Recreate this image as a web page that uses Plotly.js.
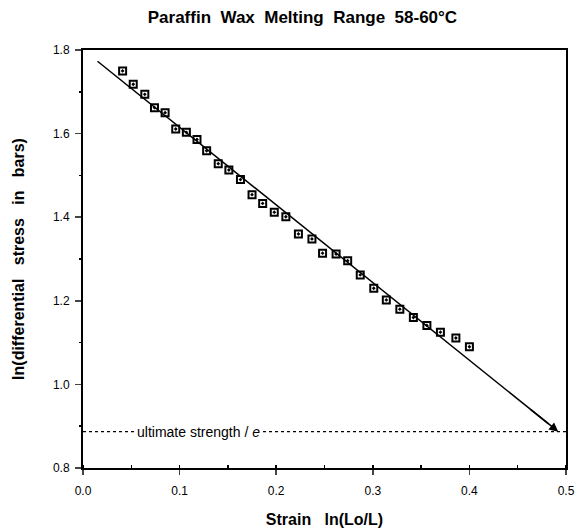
<!DOCTYPE html>
<html><head><meta charset="utf-8">
<script src="https://cdn.plot.ly/plotly-3.0.1.min.js"></script>
<style>body{margin:0;background:#fff}#chart{width:575px;height:531px}</style>
</head><body><div id="chart"></div>
<script>
const strain = [0.041,0.052,0.064,0.074,0.085,0.096,0.107,0.118,0.128,0.140,0.151,0.163,0.175,0.186,0.198,0.210,0.223,0.237,0.248,0.262,0.274,0.287,0.301,0.314,0.328,0.342,0.356,0.370,0.386,0.400];
const lnStress = [1.750,1.718,1.694,1.662,1.650,1.611,1.603,1.586,1.559,1.528,1.513,1.490,1.454,1.433,1.412,1.401,1.360,1.348,1.314,1.312,1.296,1.262,1.230,1.202,1.180,1.160,1.141,1.125,1.111,1.090];
const fitX = [0.015, 0.492];
const fitY = [1.773, 0.887];
const limitX = [0, 0.5];
const limitY = [0.887, 0.887];
const limitLabel = "ultimate strength / <i>e</i>";
const titleText = "Paraffin&nbsp; Wax&nbsp; Melting&nbsp; Range&nbsp; 58-60°C";
const xTitle = "Strain&nbsp;&nbsp; ln(Lo/L)";
const yTitle = "ln(differential&nbsp;&nbsp; stress&nbsp;&nbsp; in&nbsp;&nbsp; bars)";

const font = "Liberation Sans, Arial, sans-serif";
const traces = [
  {x: limitX, y: limitY, mode: 'lines', line: {color: '#000', width: 1.2, dash: 'dot'}, hoverinfo: 'skip'},
  {x: [fitX[0], fitX[1] - 0.01], y: [fitY[0], fitY[0] + (fitY[1]-fitY[0])*(fitX[1]-0.01-fitX[0])/(fitX[1]-fitX[0])], mode: 'lines', line: {color: '#000', width: 1.5}, hoverinfo: 'skip'},
  {x: strain, y: lnStress, mode: 'markers', marker: {symbol: 'square-open-dot', size: 7, color: '#000', line: {width: 2, color: '#000'}}}
];
const layout = {
  width: 575, height: 531,
  margin: {l: 83, r: 9, t: 50, b: 63},
  paper_bgcolor: '#fff', plot_bgcolor: '#fff',
  showlegend: false,
  font: {family: font, color: '#000', size: 12},
  title: {text: '<b>' + titleText + '</b>', x: 0.526, xanchor: 'center', y: 0.967, yanchor: 'middle', font: {family: font, size: 17, color: '#000'}},
  xaxis: {range: [0, 0.5], dtick: 0.1, tickformat: '.1f', ticks: 'outside', ticklen: 5, tickwidth: 1.5, ticklabelstandoff: 6,
    showline: true, linewidth: 2, linecolor: '#000', mirror: true, showgrid: false, zeroline: false,
    minor: {dtick: 0.05, ticks: 'inside', ticklen: 3, tickcolor: '#000'},
    tickfont: {family: font, size: 12, color: '#000'},
    title: {text: '<b>' + xTitle + '</b>', standoff: 16, font: {family: font, size: 16, color: '#000'}}},
  yaxis: {range: [0.8, 1.8], dtick: 0.2, tickformat: '.1f', ticks: 'outside', ticklen: 6, tickwidth: 1.5, ticklabelstandoff: 3,
    showline: true, linewidth: 2, linecolor: '#000', mirror: true, showgrid: false, zeroline: false,
    minor: {dtick: 0.1, ticks: 'outside', ticklen: 2, tickcolor: '#000'},
    tickfont: {family: font, size: 12, color: '#000'},
    title: {text: '<b>' + yTitle + '</b>', standoff: 24, font: {family: font, size: 16, color: '#000'}}},
  annotations: [
    {x: 0.12, y: limitY[0], xref: 'x', yref: 'y', text: limitLabel, showarrow: false, bgcolor: '#fff',
     font: {family: font, size: 14, color: '#000'}, borderpad: 1},
    {x: fitX[1], y: fitY[1], ax: fitX[1] - 0.03, ay: fitY[1] + (fitY[0]-fitY[1])*0.03/(fitX[1]-fitX[0]), axref: 'x', ayref: 'y',
     xref: 'x', yref: 'y', showarrow: true, arrowhead: 2, arrowsize: 1.2, arrowwidth: 1.5, arrowcolor: '#000', text: ''}
  ]
};
Plotly.newPlot('chart', traces, layout, {displayModeBar: false, staticPlot: true});
</script></body></html>
